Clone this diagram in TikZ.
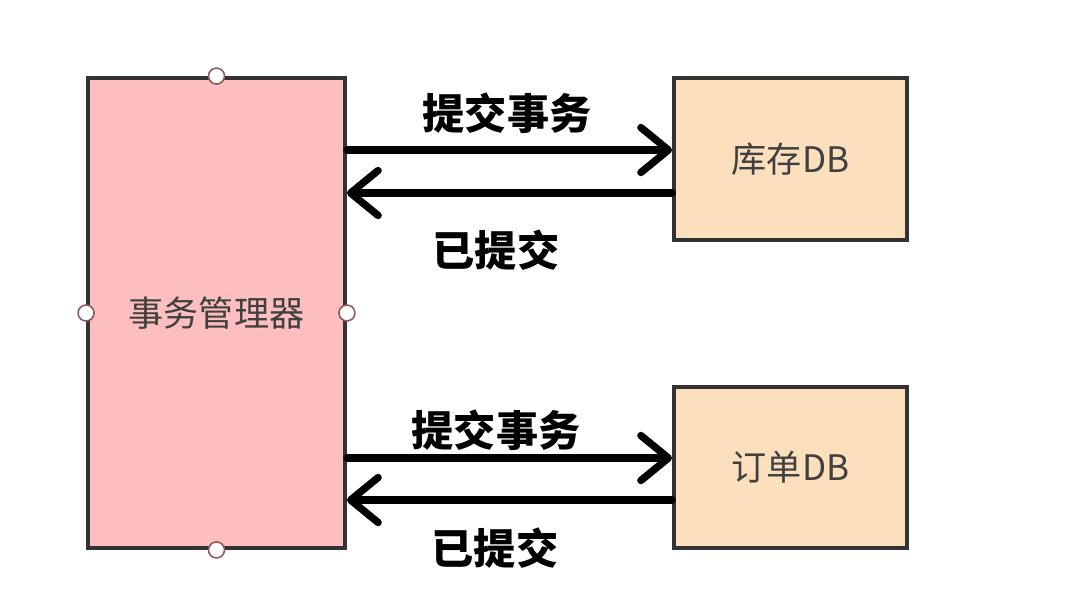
\documentclass[tikz,border=0pt]{standalone}
\usepackage{fontspec}
\setmainfont{Noto Sans CJK SC}
\usepackage{xcolor}
\usetikzlibrary{arrows.meta,positioning}

\definecolor{mgrpink}{HTML}{FCBEBF}
\definecolor{dbpeach}{HTML}{FCE0BE}
\definecolor{edgegray}{HTML}{333333}
\definecolor{handle}{HTML}{8C5A5C}

\begin{document}
\begin{tikzpicture}[
  box/.style={draw=edgegray, line width=2.2pt, align=center, inner sep=0pt, font=\fontsize{20}{24}\selectfont, text=black!75},
  lbl/.style={font=\fontsize{24}{28}\selectfont\bfseries, inner sep=0pt},
  arr/.style={-{Straight Barb[length=5.5mm, width=9mm, round]}, line width=4.2pt, line cap=round},
  hdl/.style={circle, draw=handle, fill=white, line width=0.9pt, minimum size=3.2mm, inner sep=0pt}
]
\useasboundingbox (0,0) rectangle (21.6,11.88);
\node[box, fill=mgrpink, minimum width=5.14cm, minimum height=9.4cm] (mgr) at (4.33,5.62) {事务管理器};
\node[box, fill=dbpeach, minimum width=4.66cm, minimum height=3.24cm] (inv) at (15.81,8.70) {库存DB};
\node[box, fill=dbpeach, minimum width=4.66cm, minimum height=3.22cm] (ord) at (15.81,2.53) {订单DB};

% selection handles
\node[hdl] (hn) at (mgr.north) {};
\node[hdl] (hs) at (mgr.south) {};
\node[hdl] (hw) at (mgr.west) {};
\node[hdl] (he) at (mgr.east) {};

\draw[arr] ([yshift=1.8mm]inv.west -| mgr.east) -- ([yshift=1.8mm]inv.west);
\draw[arr] ([yshift=-6.8mm]inv.west) -- ([yshift=-6.8mm]inv.west -| mgr.east);
\draw[arr] ([yshift=1.9mm]ord.west -| mgr.east) -- ([yshift=1.9mm]ord.west);
\draw[arr] ([yshift=-6.5mm]ord.west) -- ([yshift=-6.5mm]ord.west -| mgr.east);

\node[lbl] (commit1) at (10.14,9.62) {提交事务};
\node[lbl] (done1) at (9.92,6.88) {已提交};
\node[lbl] (commit2) at (9.92,3.28) {提交事务};
\node[lbl] (done2) at (9.90,0.92) {已提交};
\end{tikzpicture}
\end{document}
